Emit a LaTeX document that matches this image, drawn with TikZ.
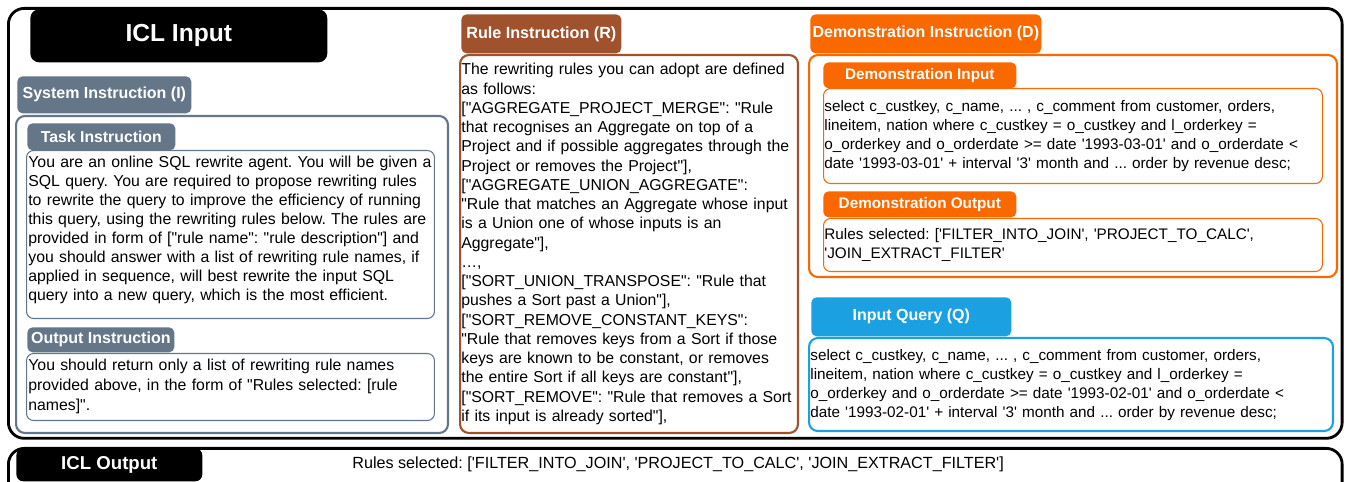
\documentclass[tikz,border=0pt]{standalone}
\usepackage{fontspec}
\setmainfont{Liberation Sans}[Ligatures=TeXOff]
\usepackage{tikz}
\frenchspacing

\definecolor{slate}{HTML}{647687}
\definecolor{rulebrown}{HTML}{A0522D}
\definecolor{demoorange}{HTML}{FA6800}
\definecolor{queryblue}{HTML}{1BA1E2}

\begin{document}
\begin{tikzpicture}[x=0.02cm, y=-0.02cm,
    tab/.style={anchor=north west, rounded corners=3pt, text=white, inner sep=0pt, font=\bfseries\fontsize{9.1}{11}\selectfont},
    box/.style={anchor=north west, draw, rounded corners=5pt, line width=1.2pt, fill=white},
    inbox/.style={anchor=north west, draw, rounded corners=4pt, line width=0.6pt},
    txt/.style={anchor=base west, align=left, inner sep=0pt, font=\fontsize{9}{10.8}\selectfont}]

    \useasboundingbox (0,0) rectangle (1346,482);
    \clip (0,0) rectangle (1346,482);

    % ICL input frame
    \node[box, line width=1.6pt, rounded corners=9pt, minimum width=26.68cm, minimum height=8.6cm] (icl) at (7,7) {};
    \node[tab, fill=black, rounded corners=5pt, minimum width=5.94cm, minimum height=1.06cm, font=\bfseries\fontsize{14}{16}\selectfont] (iclin) at (30,9) {ICL Input};

    % system instruction
    \node[box, draw=slate, minimum width=8.64cm, minimum height=6.34cm] (sys) at (15,115) {};
    \node[tab, fill=slate, minimum width=3.48cm, minimum height=0.74cm] (systab) at (17,76) {System Instruction (I)};

    \node[inbox, draw=slate, minimum width=8.16cm, minimum height=3.36cm] (task) at (26,150) {};
    \node[tab, fill=slate, minimum width=2.96cm, minimum height=0.54cm, font=\bfseries\fontsize{9}{11}\selectfont] (tasktab) at (27,123) {Task Instruction};
    \node[txt, text width=8.4cm] (tasktxt) at (28,168) {You are an online SQL rewrite agent. You will be given a\\
      SQL query. You are required to propose rewriting rules\\
      to rewrite the query to improve the efficiency of running\\
      this query, using the rewriting rules below. The rules are\\
      provided in form of {[}"rule name": "rule description"] and\\
      you should answer with a list of rewriting rule names, if\\
      applied in sequence, will best rewrite the input SQL\\
      query into a new query, which is the most efficient.};

    \node[inbox, draw=slate, minimum width=8.16cm, minimum height=1.34cm] (out) at (26,353) {};
    \node[tab, fill=slate, minimum width=2.94cm, minimum height=0.5cm] (outtab) at (27,327) {Output Instruction};
    \node[txt, text width=8.4cm, font=\fontsize{9}{11.3}\selectfont] (outtxt) at (28,371) {You should return only a list of rewriting rule names\\
      provided above, in the form of "Rules selected: [rule\\
      names]".};

    % rule instruction
    \node[box, draw=rulebrown, minimum width=6.76cm, minimum height=7.56cm] (rule) at (459,54) {};
    \node[tab, fill=rulebrown, minimum width=3.2cm, minimum height=0.78cm, font=\bfseries\fontsize{9.2}{11}\selectfont] (ruletab) at (461,14) {Rule Instruction (R)};
    \node[txt, text width=6.9cm, font=\fontsize{9}{10.95}\selectfont] (ruletxt) at (461,75) {The rewriting rules you can adopt are defined\\
      as follows:\\
      {[}"AGGREGATE\_PROJECT\_MERGE": "Rule\\
      that recognises an Aggregate on top of a\\
      Project and if possible aggregates through the\\
      Project or removes the Project"],\\
      {[}"AGGREGATE\_UNION\_AGGREGATE":\\
      "Rule that matches an Aggregate whose input\\
      is a Union one of whose inputs is an\\
      Aggregate"],\\
      …,\\
      {[}"SORT\_UNION\_TRANSPOSE": "Rule that\\
      pushes a Sort past a Union"],\\
      {[}"SORT\_REMOVE\_CONSTANT\_KEYS":\\
      "Rule that removes keys from a Sort if those\\
      keys are known to be constant, or removes\\
      the entire Sort if all keys are constant"],\\
      {[}"SORT\_REMOVE": "Rule that removes a Sort\\
      if its input is already sorted"],};

    % demonstration instruction
    \node[box, draw=demoorange, minimum width=10.56cm, minimum height=4.44cm] (demo) at (808,54) {};
    \node[tab, fill=demoorange, minimum width=4.62cm, minimum height=0.78cm] (demotab) at (810,14) {Demonstration Instruction (D)};

    \node[inbox, draw=demoorange, minimum width=9.98cm, minimum height=1.9cm] (demoin) at (823,88) {};
    \node[tab, fill=demoorange, minimum width=3.86cm, minimum height=0.52cm, font=\bfseries\fontsize{8.7}{10}\selectfont] (demointab) at (823,62) {Demonstration Input};
    \node[txt, text width=10cm, font=\fontsize{8.7}{10.8}\selectfont] (demointxt) at (824,112) {select c\_custkey, c\_name, ... , c\_comment from customer, orders,\\
      lineitem, nation where c\_custkey = o\_custkey and l\_orderkey =\\
      o\_orderkey and o\_orderdate >= date '1993-03-01' and o\_orderdate <\\
      date '1993-03-01' + interval '3' month and ... order by revenue desc;};

    \node[inbox, draw=demoorange, minimum width=9.98cm, minimum height=1.06cm] (demoout) at (823,218) {};
    \node[tab, fill=demoorange, minimum width=3.86cm, minimum height=0.52cm, font=\bfseries\fontsize{8.7}{10}\selectfont] (demoouttab) at (823,191) {Demonstration Output};
    \node[txt, text width=10cm, font=\fontsize{8.7}{10.8}\selectfont] (demoouttxt) at (824,240) {Rules selected: ['FILTER\_INTO\_JOIN', 'PROJECT\_TO\_CALC',\\
      'JOIN\_EXTRACT\_FILTER'};

    % input query
    \node[box, draw=queryblue, minimum width=10.48cm, minimum height=1.86cm] (query) at (808,337) {};
    \node[tab, fill=queryblue, minimum width=4cm, minimum height=0.78cm] (querytab) at (811,297) {Input Query (Q)};
    \node[txt, text width=10.4cm, font=\fontsize{8.7}{10.8}\selectfont] (querytxt) at (810,361) {select c\_custkey, c\_name, ... , c\_comment from customer, orders,\\
      lineitem, nation where c\_custkey = o\_custkey and l\_orderkey =\\
      o\_orderkey and o\_orderdate >= date '1993-02-01' and o\_orderdate <\\
      date '1993-02-01' + interval '3' month and ... order by revenue desc;};

    % ICL output
    \node[box, line width=1.6pt, rounded corners=9pt, minimum width=26.68cm, minimum height=1.4cm] (iclbar) at (7,447) {};
    \node[tab, fill=black, rounded corners=4pt, minimum width=3.72cm, minimum height=0.66cm, font=\bfseries\fontsize{10.6}{12}\selectfont] (iclout) at (16,448) {ICL Output};
    \node[txt, font=\fontsize{9.2}{11}\selectfont] (icloutxt) at (352,469) {Rules selected: ['FILTER\_INTO\_JOIN', 'PROJECT\_TO\_CALC', 'JOIN\_EXTRACT\_FILTER']};
  \end{tikzpicture}
\end{document}
